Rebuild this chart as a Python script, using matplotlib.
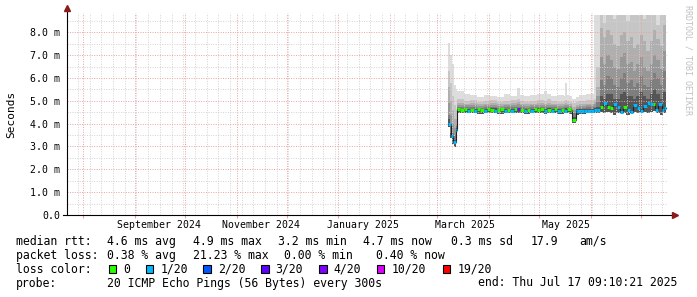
import matplotlib
matplotlib.use("Agg")
import matplotlib.pyplot as plt
import matplotlib.dates as mdates
from matplotlib.patches import Rectangle
from matplotlib.ticker import MultipleLocator, FuncFormatter, NullFormatter
from matplotlib.transforms import blended_transform_factory
from datetime import datetime, timedelta

plt.rcParams['font.family'] = ['DejaVu Sans Mono']

# time range: 360 days ending at probe end time
END = datetime(2025, 7, 17, 9, 10, 21)
START = END - timedelta(days=360)
BASE = datetime(2025, 3, 1)  # all day offsets below count from here

# smoke = spread of the 20 pings (ms), outer band first
smoke_day = [6.8, 8.0, 9.2, 10.4, 11.4,
             12.2, 16, 20, 24, 28, 32, 36, 40, 44, 48, 50, 52, 56, 60, 64, 66, 68, 72, 76, 76.6, 77.6,
             79, 81.0, 83.0, 85, 89, 93.9, 95.2,
             97.4, 99.4, 101.4, 103.4, 105.4, 107.4, 109.4, 111.4, 113.4, 115.4, 117.4, 119.4,
             121.4, 123.4, 125.4, 127.4, 129.4, 131.4, 133.4, 135.4,
             137.2]
smoke_hi0 = [7.55, 7.0, 6.6, 5.7, 5.5,
             5.45, 5.3, 5.25, 5.15, 5.25, 5.2, 5.15, 5.3, 5.2, 5.55, 5.25, 5.2, 5.25, 5.3, 5.45, 5.3, 5.2, 5.25, 5.2, 5.8, 5.25,
             5.2, 5.1, 5.15, 5.25, 5.3, 8.75, 8.75,
             8.75, 8.75, 8.75, 8.75, 8.75, 8.75, 8.75, 8.75, 8.75, 8.75, 8.75, 8.75,
             8.75, 8.75, 8.75, 8.75, 8.75, 8.75, 8.75, 8.75,
             8.75]
smoke_hi1 = [6.3, 5.8, 5.2, 4.8, 4.6,
             5.1, 5.0, 5.05, 4.95, 5.0, 5.05, 4.95, 5.0, 5.05, 5.1, 5.0, 4.95, 5.0, 5.05, 5.0, 5.1, 5.0, 4.95, 5.0, 5.05, 5.0,
             4.95, 4.9, 4.95, 5.0, 5.05, 5.1, 6.5,
             8.75, 8.4, 8.75, 8.75, 8.6, 8.75, 8.75, 8.75, 8.5, 8.75, 8.75, 8.75,
             8.75, 8.6, 8.75, 8.75, 8.75, 8.3, 8.75, 8.75,
             8.75]
smoke_hi2 = [5.6, 5.0, 4.6, 4.2, 4.2,
             4.9, 4.88, 4.9, 4.85, 4.88, 4.9, 4.85, 4.88, 4.9, 4.95, 4.88, 4.85, 4.88, 4.9, 4.88, 4.92, 4.88, 4.85, 4.88, 4.9, 4.88,
             4.85, 4.75, 4.8, 4.85, 4.88, 4.95, 5.6,
             8.2, 7.8, 8.1, 7.9, 7.5, 7.4, 7.9, 8.0, 7.6, 7.8, 7.3, 7.5,
             7.9, 7.6, 7.2, 7.6, 8.1, 7.7, 7.4, 8.3,
             8.3]
smoke_hi3 = [4.9, 4.4, 4.0, 3.8, 4.0,
             4.8, 4.8, 4.8, 4.78, 4.8, 4.82, 4.78, 4.8, 4.8, 4.84, 4.8, 4.78, 4.8, 4.82, 4.8, 4.82, 4.8, 4.78, 4.8, 4.82, 4.8,
             4.78, 4.6, 4.72, 4.78, 4.8, 4.85, 5.2,
             6.9, 6.6, 7.0, 6.8, 6.5, 6.4, 6.9, 7.1, 6.6, 6.7, 6.3, 6.6,
             6.9, 6.5, 6.3, 6.6, 7.0, 6.8, 6.4, 7.2,
             7.2]
smoke_hi4 = [4.4, 3.9, 3.6, 3.5, 3.9,
             4.72, 4.72, 4.72, 4.7, 4.72, 4.74, 4.7, 4.72, 4.72, 4.75, 4.72, 4.7, 4.72, 4.74, 4.72, 4.74, 4.72, 4.7, 4.72, 4.74, 4.72,
             4.7, 4.45, 4.66, 4.7, 4.72, 4.75, 4.95,
             5.9, 5.7, 6.1, 6.0, 5.7, 5.6, 6.0, 6.2, 5.8, 5.9, 5.6, 5.8,
             6.1, 5.7, 5.6, 5.9, 6.2, 6.0, 5.7, 6.3,
             6.3]
smoke_hi5 = [4.2, 3.6, 3.4, 3.3, 3.8,
             4.66, 4.66, 4.66, 4.64, 4.66, 4.68, 4.64, 4.66, 4.66, 4.68, 4.66, 4.64, 4.66, 4.68, 4.66, 4.68, 4.66, 4.64, 4.66, 4.68, 4.66,
             4.64, 4.3, 4.62, 4.64, 4.66, 4.68, 4.75,
             5.2, 5.1, 5.3, 5.3, 5.1, 5.1, 5.3, 5.4, 5.2, 5.2, 5.1, 5.2,
             5.4, 5.2, 5.1, 5.3, 5.5, 5.3, 5.1, 5.4,
             5.4]
smoke_lo = [3.85, 3.35, 3.1, 2.98, 3.3,
            4.45, 4.45, 4.45, 4.42, 4.45, 4.45, 4.42, 4.45, 4.45, 4.45, 4.45, 4.42, 4.45, 4.45, 4.42, 4.45, 4.45, 4.42, 4.45, 4.45, 4.45,
            4.42, 4.05, 4.4, 4.42, 4.45, 4.45, 4.45,
            4.5, 4.45, 4.5, 4.45, 4.4, 4.45, 4.5, 4.45, 4.4, 4.45, 4.5, 4.45,
            4.55, 4.5, 4.45, 4.5, 4.55, 4.45, 4.4, 4.45,
            4.45]
smoke_colors = ['#dddddd', '#c6c6c6', '#afafaf', '#979797', '#7e7e7e', '#555555']

# median rtt (ms) and lost pings (of 20) per sample
median_day = [6.8, 8.2, 9.7, 11.1, 12.2,
              14, 16, 18, 20, 22, 24, 26, 28, 30, 32, 34, 36, 38, 40, 42, 44, 46, 48, 50,
              52, 54, 56, 58, 60, 62, 64, 66, 68, 70, 72, 74, 76, 78, 80,
              81.0, 83.0, 84, 86, 88, 90, 92, 94, 96,
              97.6, 99.6, 101.6, 103.6, 105.6, 107.6, 109.6, 111.6, 113.6, 115.6, 117.6, 119.6,
              121.6, 123.6, 125.6, 127.6, 129.6, 130.6, 132.6, 134.6, 135.8, 137.2]
median_ms = [4.0, 3.45, 3.2, 3.72, 4.62,
             4.6, 4.62, 4.56, 4.6, 4.55, 4.62, 4.6, 4.55, 4.62, 4.6, 4.56, 4.6, 4.62, 4.55, 4.6, 4.56, 4.62, 4.65, 4.6,
             4.55, 4.6, 4.56, 4.62, 4.6, 4.62, 4.55, 4.6, 4.56, 4.62, 4.55, 4.6, 4.56, 4.62, 4.6,
             4.15, 4.56, 4.55, 4.56, 4.55, 4.56, 4.55, 4.58, 4.6,
             4.72, 4.89, 4.72, 4.7, 4.85, 4.75, 4.5, 4.74, 4.6, 4.52, 4.82, 4.7,
             4.55, 4.78, 4.9, 4.88, 4.86, 4.6, 4.85, 4.6, 4.7, 4.7]
median_loss = [1, 1, 1, 1, 0,
               0, 0, 1, 0, 1, 0, 0, 1, 0, 0, 1, 0, 0, 1, 0, 1, 0, 4, 0,
               1, 0, 1, 0, 0, 0, 1, 0, 1, 0, 1, 0, 1, 0, 0,
               0, 1, 1, 1, 1, 1, 1, 1, 1,
               0, 1, 0, 0, 1, 1, 1, 0, 1, 1, 1, 1,
               1, 1, 1, 1, 0, 1, 1, 1, 1, 1]

loss_levels = [0, 1, 2, 3, 4, 10, 19]
loss_labels = ["0", "1/20", "2/20", "3/20", "4/20", "10/20", "19/20"]
loss_colors = ['#26ff00', '#00b8ff', '#0059ff', '#5e00ff', '#7e00ff', '#dd00ff', '#ff0000']

rtt_stats = ["4.6 ms avg", "4.9 ms max", "3.2 ms min", "4.7 ms now", "0.3 ms sd", "17.9", "am/s"]
pl_stats = ["0.38 % avg", "21.23 % max", "0.00 % min", "0.40 % now"]
probe_text = "20 ICMP Echo Pings (56 Bytes) every 300s"
end_text = "end: Thu Jul 17 09:10:21 2025"

month_labels = ["September 2024", "November 2024", "January 2025", "March 2025", "May 2025"]
month_label_at = [datetime(2024, 9, 15, 12), datetime(2024, 11, 15, 14), datetime(2025, 1, 15, 10),
                  datetime(2025, 3, 17, 12), datetime(2025, 5, 17, 12)]

W, H = 697, 297


def fx(x):
    return x / W


def fy(y):
    return 1 - y / H


def to_num(days):
    return mdates.date2num([BASE + timedelta(days=d) for d in days])


fig = plt.figure(figsize=(W / 100, H / 100), dpi=100)
ax = fig.add_axes([fx(67), fy(215), (668 - 67) / W, (215 - 12.9) / H])

# smoke bands
sx = to_num(smoke_day)
for hi, col in zip([smoke_hi0, smoke_hi1, smoke_hi2, smoke_hi3, smoke_hi4, smoke_hi5], smoke_colors):
    ax.fill_between(sx, smoke_lo, hi, step='post', color=col, lw=0, zorder=1)

# median line, then loss-coloured pieces
mx = to_num(median_day)
ax.step(mx, median_ms, where='post', color='#202020', lw=0.8, zorder=3)
color_of = dict(zip(loss_levels, loss_colors))
for i in range(len(mx) - 1):
    ax.plot([mx[i], mx[i + 1]], [median_ms[i], median_ms[i]], color=color_of[median_loss[i]],
            lw=2.2, solid_capstyle='butt', zorder=4)

ax.set_xlim(mdates.date2num(START), mdates.date2num(END))
ax.set_ylim(0, 8.85)

# grid
red = '#eba2a2'
gray = '#d3d3d3'
ax.xaxis.set_major_locator(mdates.MonthLocator())
ax.xaxis.set_minor_locator(mdates.WeekdayLocator(byweekday=mdates.MO))
ax.xaxis.set_major_formatter(NullFormatter())
ax.yaxis.set_major_locator(MultipleLocator(1.0))
ax.yaxis.set_minor_locator(MultipleLocator(0.5))
ax.yaxis.set_major_formatter(FuncFormatter(lambda v, p: "0.0" if v == 0 else f"{v:.1f} m"))
ax.grid(which='minor', color=gray, lw=0.7, linestyle=(0, (1, 1.5)))
ax.grid(which='major', color=red, lw=0.7, linestyle=(0, (1, 1.5)))
ax.set_axisbelow(False)
ax.tick_params(axis='y', which='both', length=0, pad=5, labelsize=7.1)
ax.tick_params(axis='x', which='major', length=2.5, color=red, width=0.8)
ax.tick_params(axis='x', which='minor', length=0)

for s in ax.spines.values():
    s.set_visible(False)

# axes with arrows
ax.plot([0, 0], [0, 1.02], transform=ax.transAxes, color='#000000', lw=0.8, clip_on=False, zorder=5)
ax.plot([-4 / 601, 1.01], [0, 0], transform=ax.transAxes, color='#000000', lw=0.8, clip_on=False, zorder=5)
ax.plot([0], [1.025], marker='^', ms=4, color='#8b1a1a', transform=ax.transAxes, clip_on=False, zorder=6)
ax.plot([1.012], [0], marker='>', ms=4, color='#8b1a1a', transform=ax.transAxes, clip_on=False, zorder=6)

# month labels
trans = blended_transform_factory(ax.transData, fig.transFigure)
for lab, d in zip(month_labels, month_label_at):
    ax.text(mdates.date2num(d), fy(225), lab, transform=trans, ha='center', va='center', fontsize=7.1)

fig.text(fx(11), fy(114), "Seconds", rotation=90, ha='center', va='center', fontsize=8)
fig.text(fx(688), fy(5), "RRDTOOL / TOBI OETIKER", rotation=270, ha='center', va='top',
         fontsize=6, color='#c0c0c0')

# legend block
fs = 8.3
rows_y = [241.5, 255.3, 269.3, 283]
fig.text(fx(16), fy(rows_y[0]), "median rtt:", fontsize=fs, va='center')
for t, x in zip(rtt_stats, [107.3, 192.7, 278.3, 363.3, 451, 530.7, 579]):
    fig.text(fx(x), fy(rows_y[0]), t, fontsize=fs, va='center')
fig.text(fx(16), fy(rows_y[1]), "packet loss:", fontsize=fs, va='center')
for t, x in zip(pl_stats, [107.3, 192.7, 284, 375.7]):
    fig.text(fx(x), fy(rows_y[1]), t, fontsize=fs, va='center')
fig.text(fx(16), fy(rows_y[2]), "loss color:", fontsize=fs, va='center')
for lab, col, bx in zip(loss_labels, loss_colors, [108.7, 145.7, 203.3, 261, 319, 376.7, 442.7]):
    fig.add_artist(Rectangle((fx(bx), fy(273.3)), 7.5 / W, 8 / H, transform=fig.transFigure,
                             facecolor=col, edgecolor='black', lw=0.8))
    fig.text(fx(bx + 14.6), fy(rows_y[2]), lab, fontsize=fs, va='center')
fig.text(fx(16), fy(rows_y[3]), "probe:", fontsize=fs, va='center')
fig.text(fx(107.3), fy(rows_y[3]), probe_text, fontsize=fs, va='center')
fig.text(fx(478.3), fy(rows_y[3]), end_text, fontsize=fs, va='center')

fig.savefig("out.png", dpi=100)
